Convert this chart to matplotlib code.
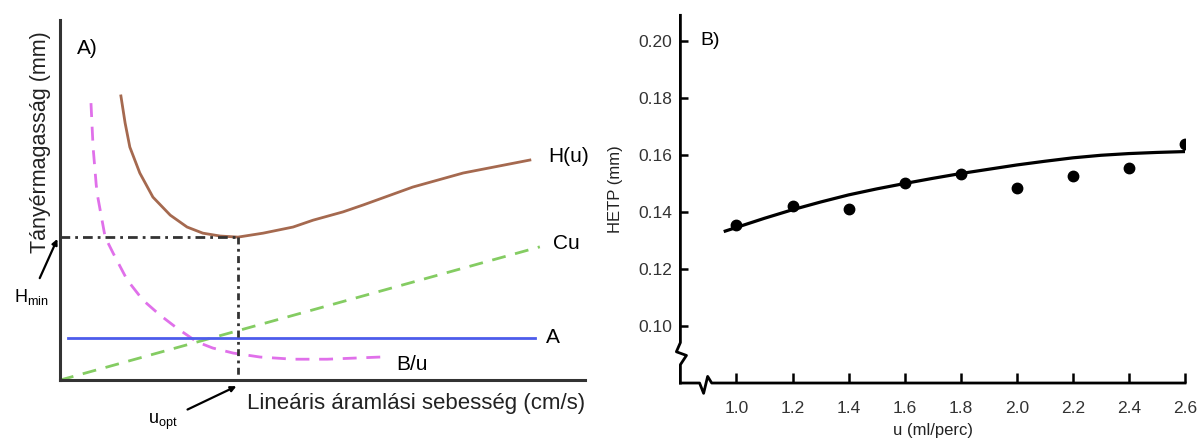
import matplotlib.pyplot as plt
import numpy as np

plt.rcParams['font.family'] = ['Liberation Sans', 'DejaVu Sans']

# --- Panel A: schematic van Deemter curves (arbitrary units) ---
h_x = [1.16, 1.24, 1.33, 1.52, 1.77, 2.10, 2.42, 2.72, 3.05, 3.39, 3.87,
       4.44, 4.82, 5.39, 5.77, 6.72, 7.68, 8.95]
h_y = [7.89, 7.14, 6.47, 5.75, 5.08, 4.58, 4.25, 4.08, 4.00, 3.97, 4.08,
       4.25, 4.44, 4.67, 4.86, 5.36, 5.75, 6.11]
b_x = [0.59, 0.63, 0.69, 0.72, 0.86, 1.01, 1.28, 1.58, 1.90, 2.23, 2.61,
       2.91, 3.30, 3.81, 4.44, 5.09, 6.10]
b_y = [7.69, 6.47, 5.42, 5.08, 3.97, 3.53, 2.78, 2.22, 1.81, 1.44, 1.06,
       0.89, 0.75, 0.64, 0.58, 0.58, 0.64]
cu_x = [0.0, 9.14]
cu_y = [0.0, 3.70]
a_x = [0.15, 9.05]
a_y = [1.17, 1.17]
u_opt = 3.39
h_min = 3.97

# --- Panel B: HETP measurements ---
u_meas = [1.0, 1.2, 1.4, 1.6, 1.8, 2.0, 2.2, 2.4, 2.6]
hetp_meas = [0.1355, 0.142, 0.141, 0.150, 0.1535, 0.1485, 0.1525, 0.1555, 0.164]
u_fit = [0.96, 1.1, 1.2, 1.3, 1.4, 1.5, 1.6, 1.7, 1.8, 1.9, 2.0, 2.1, 2.2,
         2.3, 2.4, 2.5, 2.6]
hetp_fit = [0.1333, 0.1378, 0.1408, 0.1435, 0.1460, 0.1481, 0.1500, 0.1518,
            0.1535, 0.1550, 0.1565, 0.1578, 0.1590, 0.1599, 0.1605, 0.1609, 0.1612]
b_xticks = [1.0, 1.2, 1.4, 1.6, 1.8, 2.0, 2.2, 2.4, 2.6]
b_yticks = [0.10, 0.12, 0.14, 0.16, 0.18, 0.20]

fig = plt.figure(figsize=(12, 4.43), dpi=100)

# ---------------- A ----------------
ax = fig.add_axes([0.05, 0.142, 0.4375, 0.813])
ax.set_xlim(0, 10)
ax.set_ylim(0, 10)
for s in ['top', 'right']:
    ax.spines[s].set_visible(False)
for s in ['left', 'bottom']:
    ax.spines[s].set_color('#333333')
    ax.spines[s].set_linewidth(2.2)
ax.set_xticks([])
ax.set_yticks([])

ax.plot(h_x, h_y, color='#A5694F', lw=2, solid_joinstyle='round')
ax.plot(b_x, b_y, color='#E070EA', lw=2, ls=(0, (5, 3.5)))
ax.plot(cu_x, cu_y, color='#84CC62', lw=2, ls=(0, (5, 3.5)))
ax.plot(a_x, a_y, color='#4D5CEB', lw=2)
ax.plot([0, u_opt], [h_min, h_min], color='#333333', lw=2,
        ls=(0, (3.5, 1.8, 1, 1.8)))
ax.plot([u_opt, u_opt], [h_min, -0.1], color='#333333', lw=2,
        ls=(0, (2.5, 1.6, 1, 1.6)), clip_on=False)

ax.text(9.3, h_y[-1] + 0.1, 'H(u)', fontsize=15, va='center', ha='left')
ax.text(9.4, cu_y[-1] + 0.1, 'Cu', fontsize=15, va='center', ha='left')
ax.text(9.25, a_y[-1], 'A', fontsize=15, va='center', ha='left')
ax.text(6.4, 0.42, 'B/u', fontsize=15, va='center', ha='left')
ax.text(0.33, 9.2, 'A)', fontsize=15, va='center', ha='left')

ax.annotate(r'$\mathregular{H_{min}}$', xy=(-0.05, h_min - 0.05), xytext=(-0.55, 2.3),
            fontsize=13, ha='center', va='center', annotation_clip=False,
            arrowprops=dict(arrowstyle='-|>', color='black', lw=1.6,
                            mutation_scale=8, shrinkA=5, shrinkB=0))
ax.annotate(r'$\mathregular{u_{opt}}$', xy=(u_opt - 0.03, -0.17), xytext=(1.95, -1.15),
            fontsize=13, ha='center', va='center', annotation_clip=False,
            arrowprops=dict(arrowstyle='-|>', color='black', lw=1.6,
                            mutation_scale=8, shrinkA=6, shrinkB=0))

ax.set_xlabel('Lineáris áramlási sebesség (cm/s)', fontsize=16, loc='right',
              labelpad=9, color='#222222')
ax.text(-0.038, 0.66, 'Tányérmagasság (mm)', fontsize=15.5, rotation=90,
        ha='center', va='center', transform=ax.transAxes, color='#222222')

# ---------------- B ----------------
bx = fig.add_axes([0.567, 0.1354, 0.4205, 0.83])
bx.set_xlim(0.8, 2.6)
bx.set_ylim(0.08, 0.209)
for s in bx.spines.values():
    s.set_visible(False)

# axis lines with break marks
k = dict(color='black', lw=2, transform=bx.transAxes, clip_on=False)
bx.plot([0, 0, 0.012, -0.008, 0.0, 0.0],
        [0, 0.05, 0.075, 0.085, 0.11, 1.0], **k)
bx.plot([0, 0.038, 0.046, 0.054, 0.062, 1.0],
        [0, 0, -0.028, 0.018, 0, 0], **k)

bx.plot(u_fit, hetp_fit, color='black', lw=2.3)
bx.plot(u_meas, hetp_meas, 'o', color='black', ms=7.5)

bx.set_xticks(b_xticks)
bx.set_xticklabels([f'{v:.1f}' for v in b_xticks])
bx.set_yticks(b_yticks)
bx.set_yticklabels([f'{v:.2f}' for v in b_yticks])
bx.tick_params(axis='x', direction='in', length=7, width=1.8, pad=13,
               labelsize=12.5, labelcolor='#333333')
bx.tick_params(axis='y', direction='in', length=6, width=1.8, pad=6,
               labelsize=12.5, labelcolor='#333333')
bx.set_xlabel('u (ml/perc)', fontsize=12, labelpad=5, color='#222222')
bx.set_ylabel('HETP (mm)', fontsize=12, color='#222222')
bx.yaxis.set_label_coords(-0.113, 0.527)
bx.text(0.87, 0.2, 'B)', fontsize=14, va='center', ha='left')

fig.savefig('out.png', dpi=100)
